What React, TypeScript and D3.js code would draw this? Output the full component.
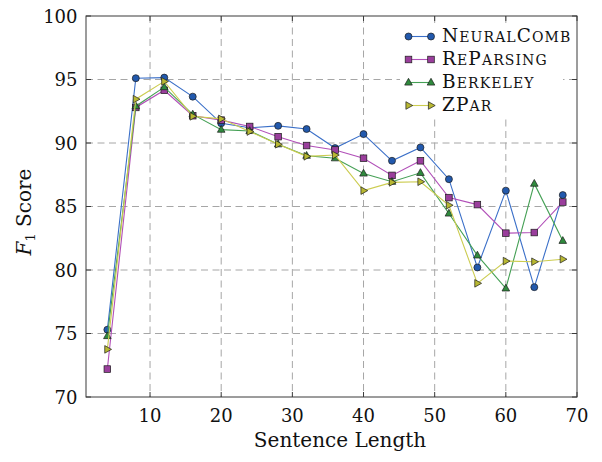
import React from "react";
import * as d3 from "d3";

const lengths = [4, 8, 12, 16, 20, 24, 28, 32, 36, 40, 44, 48, 52, 56, 60, 64, 68];
const neuralComb = [75.3, 95.1, 95.15, 93.65, 91.55, 91.2, 91.35, 91.1, 89.6, 90.7, 88.6, 89.65, 87.15, 80.2, 86.25, 78.65, 85.9];
const reParsing = [72.2, 92.8, 94.15, 92.15, 91.8, 91.3, 90.5, 89.8, 89.45, 88.8, 87.45, 88.6, 85.7, 85.15, 82.9, 82.95, 85.35];
const berkeley = [74.8, 92.9, 94.4, 92.25, 91.05, 90.95, 89.9, 89.0, 88.8, 87.6, 86.95, 87.65, 84.45, 81.15, 78.55, 86.8, 82.3];
const zPar = [73.75, 93.45, 94.85, 92.1, 91.9, 90.9, 89.9, 88.95, 89.05, 86.25, 86.9, 86.95, 85.1, 78.95, 80.7, 80.65, 80.85];

const xTicks = [10, 20, 30, 40, 50, 60, 70];
const yTicks = [70, 75, 80, 85, 90, 95, 100];

type Series = { big: string[]; small: string[]; values: number[]; line: string; fill: string; mark: string };
const series: Series[] = [
  { big: ["N", "C"], small: ["EURAL", "OMB"], values: neuralComb, line: "#3a6fc8", fill: "#2259ad", mark: "circle" },
  { big: ["R", "P"], small: ["E", "ARSING"], values: reParsing, line: "#b14fb8", fill: "#9a3e9c", mark: "square" },
  { big: ["B"], small: ["ERKELEY"], values: berkeley, line: "#45a055", fill: "#2f8a3d", mark: "triangle" },
  { big: ["Z", "P"], small: ["", "AR"], values: zPar, line: "#cccc50", fill: "#b8b832", mark: "tri-right" },
];

const W = 602, H = 462;
const L = 86, R = 577, T = 16, B = 397;
const FONT = "DejaVu Serif";

function Marker({ kind, x, y, fill }: { kind: string; x: number; y: number; fill: string }) {
  const st = { fill, stroke: "#1c1c1c", strokeWidth: 0.7 };
  if (kind === "circle") return <circle cx={x} cy={y} r={3.5} {...st} />;
  if (kind === "square") return <rect x={x - 3.3} y={y - 3.3} width={6.6} height={6.6} {...st} />;
  if (kind === "triangle")
    return <path d={`M${x},${y - 4.2}L${x + 3.8},${y + 2.6}L${x - 3.8},${y + 2.6}Z`} {...st} />;
  return <path d={`M${x + 4.2},${y}L${x - 2.6},${y + 3.8}L${x - 2.6},${y - 3.8}Z`} {...st} />;
}

export default function App() {
  const x = d3.scaleLinear().domain([1, 70]).range([L, R]);
  const y = d3.scaleLinear().domain([70, 100]).range([B, T]);
  const line = d3
    .line<number>()
    .x((_, i) => x(lengths[i]))
    .y((d) => y(d));

  const legendX0 = 408.5, legendX1 = 431, legendTextX = 442;
  const legendRows = [36.5, 59.5, 82.5, 105.5];

  return (
    <svg width={W} height={H} style={{ position: "absolute", left: 0, top: 0 }} fontFamily={FONT}>
      <rect width={W} height={H} fill="#fff" />
      {/* grid */}
      <g stroke="#a6a6a6" strokeWidth={1} strokeDasharray="7,4.5">
        {xTicks.filter((t) => t < 70).map((t) => (
          <line key={"gx" + t} x1={x(t)} x2={x(t)} y1={T} y2={B} />
        ))}
        {yTicks.filter((t) => t > 70 && t < 100).map((t) => (
          <line key={"gy" + t} x1={L} x2={R} y1={y(t)} y2={y(t)} />
        ))}
      </g>
      {/* series */}
      {series.map((s, si) => (
        <g key={si}>
          <path d={line(s.values) || ""} fill="none" stroke={s.line} strokeWidth={1.1} />
          {s.values.map((v, i) => (
            <Marker key={i} kind={s.mark} x={x(lengths[i])} y={y(v)} fill={s.fill} />
          ))}
        </g>
      ))}
      {/* frame */}
      <rect x={L} y={T} width={R - L} height={B - T} fill="none" stroke="#3a3a3a" strokeWidth={1} />
      <g stroke="#3a3a3a" strokeWidth={1}>
        {xTicks.map((t) => (
          <g key={"tx" + t}>
            <line x1={x(t)} x2={x(t)} y1={B} y2={B - 5} />
            <line x1={x(t)} x2={x(t)} y1={T} y2={T + 5} />
          </g>
        ))}
        {yTicks.map((t) => (
          <g key={"ty" + t}>
            <line x1={L} x2={L + 5} y1={y(t)} y2={y(t)} />
            <line x1={R} x2={R - 5} y1={y(t)} y2={y(t)} />
          </g>
        ))}
      </g>
      {/* tick labels */}
      <g fontSize={18} fill="#111">
        {xTicks.map((t) => (
          <text key={"lx" + t} x={x(t)} y={422} textAnchor="middle">{t}</text>
        ))}
        {yTicks.map((t) => (
          <text key={"ly" + t} x={77.5} y={y(t) + 6.5} textAnchor="end">{t}</text>
        ))}
      </g>
      {/* axis titles */}
      <text x={340} y={447} textAnchor="middle" fontSize={20} fill="#111">Sentence Length</text>
      <text transform="translate(31,212) rotate(-90)" textAnchor="middle" fontSize={20} fill="#111">
        <tspan fontStyle="italic">F</tspan>
        <tspan fontSize={13} dy={4}>1</tspan>
        <tspan dy={-4}> Score</tspan>
      </text>
      {/* legend */}
      <rect x={400} y={24} width={163} height={92} fill="#fff" />
      {series.map((s, si) => {
        const ry = legendRows[si];
        return (
          <g key={"lg" + si}>
            <line x1={legendX0} x2={legendX1} y1={ry} y2={ry} stroke={s.line} strokeWidth={1.1} />
            <Marker kind={s.mark} x={legendX0} y={ry} fill={s.fill} />
            <Marker kind={s.mark} x={legendX1} y={ry} fill={s.fill} />
            <text x={legendTextX} y={ry + 5} fill="#111" letterSpacing={1.1}>
              {s.big.map((b, k) => (
                <React.Fragment key={k}>
                  <tspan fontSize={18.5}>{b}</tspan>
                  {s.small[k] ? <tspan fontSize={14}>{s.small[k]}</tspan> : null}
                </React.Fragment>
              ))}
            </text>
          </g>
        );
      })}
    </svg>
  );
}
